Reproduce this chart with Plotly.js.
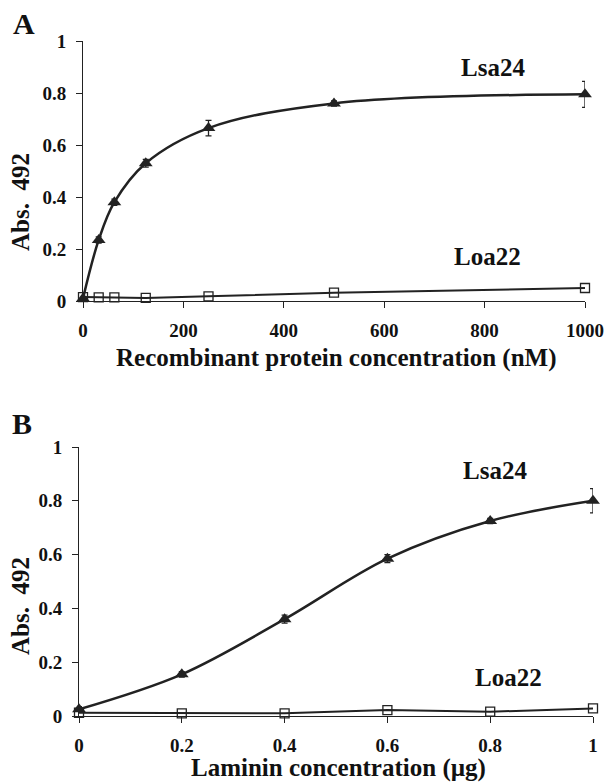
<!DOCTYPE html>
<html>
<head>
<meta charset="utf-8">
<script src="https://cdn.plot.ly/plotly-3.0.1.min.js"></script>
<style>html,body{margin:0;padding:0;background:#fff;}#chart{width:606px;height:782px;}</style>
</head>
<body>
<div id="chart"></div>
<script>
// Panel A: recombinant protein concentration (nM)
const concA = [0, 31.25, 62.5, 125, 250, 500, 1000];
const lsa24A = [0.01, 0.235, 0.38, 0.53, 0.665, 0.76, 0.795];
const lsa24AErr = [0.005, 0.012, 0.012, 0.015, 0.03, 0.01, 0.05];
const loa22A = [0.015, 0.014, 0.014, 0.012, 0.018, 0.032, 0.05];

// Panel B: laminin concentration (µg)
const concB = [0, 0.2, 0.4, 0.6, 0.8, 1];
const lsa24B = [0.025, 0.155, 0.36, 0.585, 0.725, 0.80];
const lsa24BErr = [0.01, 0.01, 0.015, 0.015, 0.01, 0.045];
const loa22B = [0.012, 0.01, 0.01, 0.022, 0.016, 0.028];

const yTickVals = [0, 0.2, 0.4, 0.6, 0.8, 1];
const yTickText = ['0', '0.2', '0.4', '0.6', '0.8', '1'];
const xTickValsA = [0, 200, 400, 600, 800, 1000];
const xTickValsB = [0, 0.2, 0.4, 0.6, 0.8, 1];
const xTickTextB = ['0', '0.2', '0.4', '0.6', '0.8', '1'];

const FONT = 'Liberation Serif, Times New Roman, serif';
const W = 606, H = 782;

const lsaStyle = {
  mode: 'lines+markers',
  line: {color: '#222', width: 2.5, shape: 'spline', smoothing: 1},
  marker: {symbol: 'triangle-up', size: 12, color: '#222'},
  cliponaxis: false,
  hoverinfo: 'skip'
};
const loaStyle = {
  mode: 'lines+markers',
  line: {color: '#222', width: 2},
  marker: {symbol: 'square-open', size: 9, color: '#222', line: {width: 1.3}},
  cliponaxis: false,
  hoverinfo: 'skip'
};

const traces = [
  Object.assign({x: concA, y: lsa24A, xaxis: 'x', yaxis: 'y',
    error_y: {type: 'data', array: lsa24AErr, visible: true, color: '#222', thickness: 1.3, width: 3}}, lsaStyle),
  Object.assign({x: concA, y: loa22A, xaxis: 'x', yaxis: 'y'}, loaStyle),
  Object.assign({x: concB, y: lsa24B, xaxis: 'x2', yaxis: 'y2',
    error_y: {type: 'data', array: lsa24BErr, visible: true, color: '#222', thickness: 1.3, width: 3}}, lsaStyle),
  Object.assign({x: concB, y: loa22B, xaxis: 'x2', yaxis: 'y2'}, loaStyle)
];

const tickFont = {family: FONT, size: 19, color: '#111', weight: 'bold'};
const titleFont = {family: FONT, size: 25, color: '#111', weight: 'bold'};
const letterFont = {family: FONT, size: 30, color: '#111', weight: 'bold'};

function xAxis(domain, anchor, range, vals, text) {
  const a = {domain: domain, anchor: anchor, range: range, showline: true, linecolor: '#222', linewidth: 1,
    ticks: 'outside', ticklen: 6, tickcolor: '#222', tickwidth: 1, showgrid: false, zeroline: false,
    tickvals: vals, tickfont: tickFont, ticklabelstandoff: 6, fixedrange: true};
  if (text) a.ticktext = text;
  return a;
}
function yAxis(domain, anchor) {
  return {domain: domain, anchor: anchor, range: [0, 1], showline: true, linecolor: '#222', linewidth: 1,
    ticks: 'outside', ticklen: 6, tickcolor: '#222', tickwidth: 1, showgrid: false, zeroline: false,
    tickvals: yTickVals, ticktext: yTickText, tickfont: tickFont, ticklabelstandoff: 6, fixedrange: true};
}

function paperText(text, px, py, font, angle) {
  const a = {text: text, x: px / W, y: 1 - py / H, xref: 'paper', yref: 'paper',
    xanchor: 'center', yanchor: 'middle', showarrow: false, font: font};
  if (angle) a.textangle = angle;
  return a;
}

const layout = {
  width: W, height: H,
  margin: {l: 0, r: 0, t: 0, b: 0},
  paper_bgcolor: '#fff', plot_bgcolor: '#fff',
  showlegend: false,
  xaxis: xAxis([83 / W, 585 / W], 'y', [0, 1000], xTickValsA, null),
  yaxis: yAxis([1 - 301 / H, 1 - 41 / H], 'x'),
  xaxis2: xAxis([79 / W, 593 / W], 'y2', [0, 1], xTickValsB, xTickTextB),
  yaxis2: yAxis([1 - 716 / H, 1 - 447 / H], 'x2'),
  annotations: [
    paperText('A', 24, 24, letterFont),
    paperText('B', 22, 423, letterFont),
    paperText('Recombinant protein concentration (nM)', 336, 358, titleFont),
    paperText('Laminin concentration (µg)', 338, 768, titleFont),
    paperText('Abs.  492', 20, 202, titleFont, -90),
    paperText('Abs.  492', 20, 606, titleFont, -90),
    paperText('Lsa24', 493, 68, titleFont),
    paperText('Loa22', 487, 256, titleFont),
    paperText('Lsa24', 495, 470, titleFont),
    paperText('Loa22', 508, 677, titleFont)
  ]
};

Plotly.newPlot('chart', traces, layout, {staticPlot: true, displayModeBar: false});
</script>
</body>
</html>
